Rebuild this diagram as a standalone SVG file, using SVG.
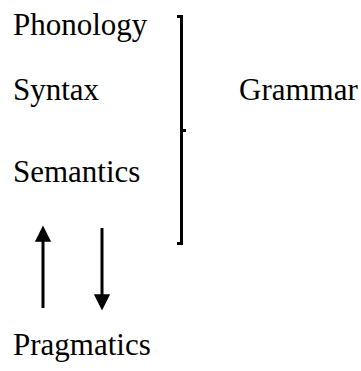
<svg xmlns="http://www.w3.org/2000/svg" width="361" height="371" viewBox="0 0 361 371">
<style>
.t{font-family:'Liberation Serif','Times New Roman',serif;font-size:31px;fill:#000}
.ln{stroke:#000;stroke-width:3;fill:none}
</style>
<defs>
<marker id="ah" viewBox="0 0 10 10" refX="0.5" refY="5" markerWidth="5.4" markerHeight="5.4" markerUnits="strokeWidth" orient="auto" overflow="visible">
<path d="M0,0 L10,5 L0,10 z" fill="#000"/>
</marker>
</defs>
<rect width="361" height="371" fill="#fff"/>
<g id="phonology"><text class="t" x="13" y="35">Phonology</text></g>
<g id="syntax"><text class="t" x="13" y="100">Syntax</text></g>
<g id="semantics"><text class="t" x="13" y="182">Semantics</text></g>
<g id="grammar"><text class="t" x="239" y="100">Grammar</text></g>
<g id="pragmatics"><text class="t" x="13" y="355">Pragmatics</text></g>
<g id="bracket">
<path class="ln" d="M177,16.5 H181.5 V243.5 H177"/>
<path class="ln" d="M181.5,130.5 H186"/>
</g>
<g id="connectors">
<line class="ln" x1="43" y1="308" x2="43" y2="241" marker-end="url(#ah)"/>
<line class="ln" x1="102" y1="228" x2="102" y2="295" marker-end="url(#ah)"/>
</g>
</svg>
